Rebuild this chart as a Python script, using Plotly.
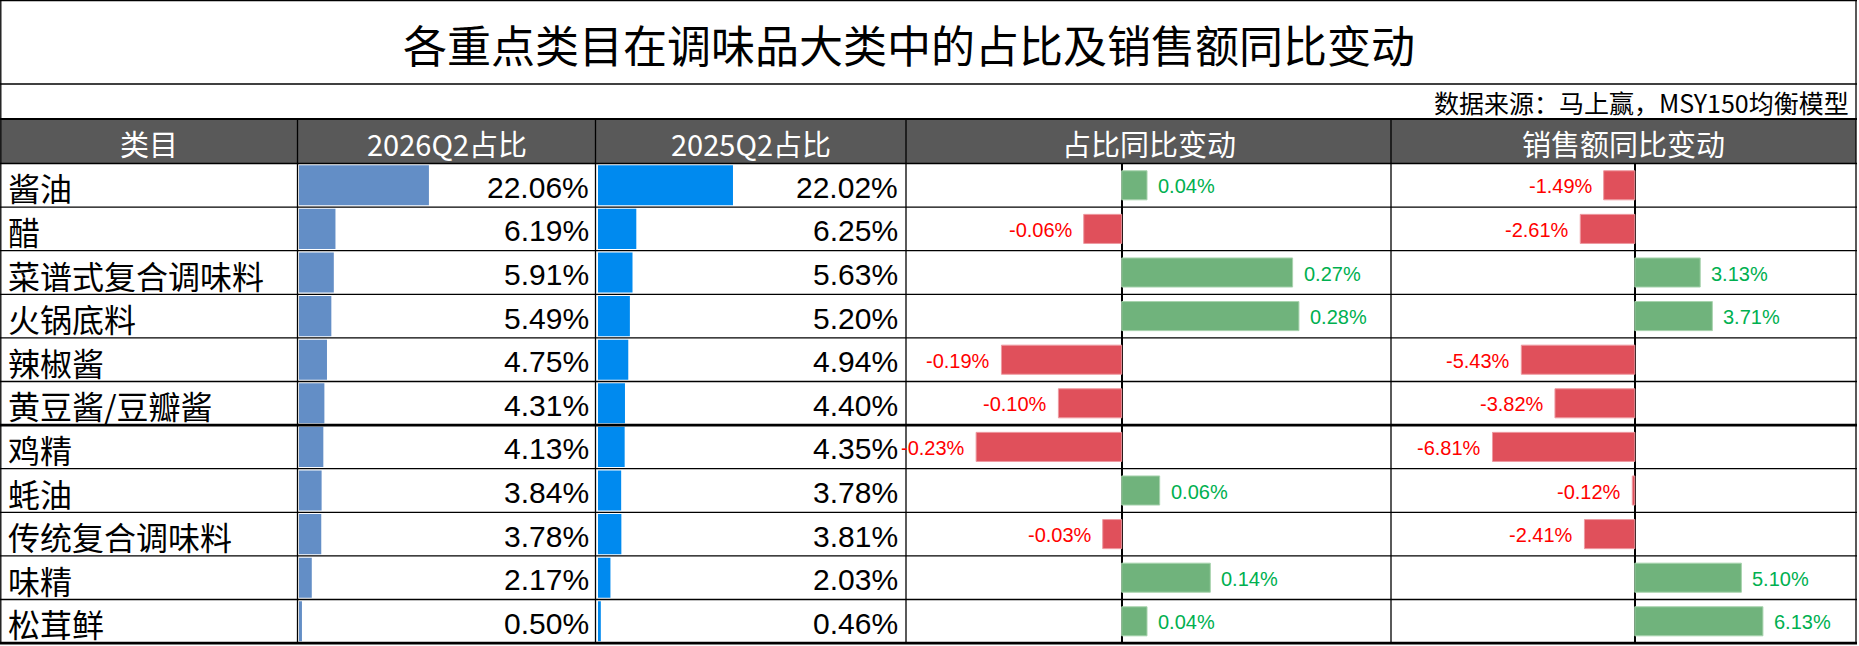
import plotly.graph_objects as go

""" Data """
categories = ['酱油', '醋', '菜谱式复合调味料', '火锅底料', '辣椒酱', '黄豆酱/豆瓣酱',
              '鸡精', '蚝油', '传统复合调味料', '味精', '松茸鲜']
share_2026 = [22.06, 6.19, 5.91, 5.49, 4.75, 4.31, 4.13, 3.84, 3.78, 2.17, 0.50]
share_2025 = [22.02, 6.25, 5.63, 5.20, 4.94, 4.40, 4.35, 3.78, 3.81, 2.03, 0.46]
share_yoy = [0.04, -0.06, 0.27, 0.28, -0.19, -0.10, -0.23, 0.06, -0.03, 0.14, 0.04]
sales_yoy = [-1.49, -2.61, 3.13, 3.71, -5.43, -3.82, -6.81, -0.12, -2.41, 5.10, 6.13]

headers = ['类目', '2026Q2占比', '2025Q2占比', '占比同比变动', '销售额同比变动']
title = '各重点类目在调味品大类中的占比及销售额同比变动'
source = '数据来源：马上赢，MSY150均衡模型'

""" Layout geometry (pixels) """
W, H = 1859, 646
cols = [0.5, 297.5, 595.5, 906, 1391, 1856]
TOP, ROW_H = 163.5, 43.6
BOTTOM = TOP + ROW_H * len(categories)


def fx(x):
    return x / W


def fy(y):
    return 1 - y / H


def bar_range(left, right, zero_px, px_per_unit):
    return [(left - zero_px) / px_per_unit, (right - zero_px) / px_per_unit]


CJK = 'Noto Sans CJK SC'
NUM = 'Liberation Sans'
GREEN, RED = '#70B37C', '#E0505B'
GREEN_EDGE, RED_EDGE = '#A8D3AE', '#EE9AA1'

fig = go.Figure()

""" Data bars """
fig.add_trace(go.Bar(y=categories, x=share_2026, orientation='h', width=0.92,
                     marker=dict(color='#638EC6', line_width=0), xaxis='x', yaxis='y'))
fig.add_trace(go.Bar(y=categories, x=share_2025, orientation='h', width=0.92,
                     marker=dict(color='#008AEF', line_width=0), xaxis='x2', yaxis='y'))
fig.add_trace(go.Bar(y=categories, x=share_yoy, orientation='h', width=0.667,
                     marker=dict(color=[GREEN if v >= 0 else RED for v in share_yoy],
                                 line=dict(color=[GREEN_EDGE if v >= 0 else RED_EDGE for v in share_yoy],
                                           width=1)),
                     xaxis='x3', yaxis='y'))
fig.add_trace(go.Bar(y=categories, x=sales_yoy, orientation='h', width=0.667,
                     marker=dict(color=[GREEN if v >= 0 else RED for v in sales_yoy],
                                 line=dict(color=[GREEN_EDGE if v >= 0 else RED_EDGE for v in sales_yoy],
                                           width=1)),
                     xaxis='x4', yaxis='y'))

hidden = dict(showgrid=False, showticklabels=False, showline=False, ticks='', fixedrange=True)
fig.update_layout(
    xaxis=dict(domain=[fx(cols[1]), fx(cols[2])], range=bar_range(cols[1], cols[2], 299, 5.89),
               zeroline=False, anchor='y', **hidden),
    xaxis2=dict(domain=[fx(cols[2]), fx(cols[3])], range=bar_range(cols[2], cols[3], 598, 6.13),
                zeroline=False, anchor='y', **hidden),
    xaxis3=dict(domain=[fx(cols[3]), fx(cols[4])], range=bar_range(cols[3], cols[4], 1121.7, 633),
                zeroline=True, zerolinecolor='black', zerolinewidth=1.6, layer='above traces',
                anchor='y', **hidden),
    xaxis4=dict(domain=[fx(cols[4]), fx(cols[5])], range=bar_range(cols[4], cols[5], 1634.8, 20.9),
                zeroline=True, zerolinecolor='black', zerolinewidth=1.6, layer='above traces',
                anchor='y', **hidden),
    yaxis=dict(domain=[fy(BOTTOM), fy(TOP)], type='category', categoryorder='array',
               categoryarray=categories, range=[len(categories) - 0.5, -0.5],
               zeroline=False, **hidden),
)

""" Table lines and header fill """
shapes = [dict(type='rect', xref='paper', yref='paper', x0=fx(0.5), x1=fx(1856),
               y0=fy(TOP), y1=fy(119), fillcolor='#595959', line_width=0, layer='below')]


def hline(y, width=1.3):
    return dict(type='line', xref='paper', yref='paper', x0=fx(0), x1=fx(1857),
                y0=fy(y), y1=fy(y), line=dict(color='black', width=width))


def vline(x, y0, y1, width=1.3):
    return dict(type='line', xref='paper', yref='paper', x0=fx(x), x1=fx(x),
                y0=fy(y0), y1=fy(y1), line=dict(color='black', width=width))


shapes += [hline(0.6), hline(84), hline(119, 1.8), hline(TOP)]
for i in range(1, len(categories)):
    shapes.append(hline(TOP + i * ROW_H, 2.8 if i == 6 else 1.3))
shapes.append(hline(BOTTOM, 2.8))
shapes += [vline(0.8, 0, BOTTOM), vline(1856, 0, BOTTOM)]
for c in cols[1:5]:
    shapes.append(vline(c, 119, BOTTOM))

""" Texts """


def label(text, x, y, size, color='black', family=CJK, xanchor='center'):
    return dict(text=text, x=x, y=y, xref='paper', yref='paper', showarrow=False,
                xanchor=xanchor, yanchor='middle', font=dict(family=family, size=size, color=color))


ann = [label(title, fx(909), fy(44), 44),
       label(source, fx(1851), fy(102), 25, xanchor='right')]

for i, h in enumerate(headers):
    ann.append(label(h, fx((cols[i] + cols[i + 1]) / 2), fy(143), 29, color='white'))

for i, cat in enumerate(categories):
    yc = fy(TOP + (i + 0.5) * ROW_H + 2)
    ann.append(label(cat, fx(6), yc, 32, xanchor='left'))
    ann.append(label(f'{share_2026[i]:.2f}%', fx(cols[2] - 4.5), yc, 30, family=NUM, xanchor='right'))
    ann.append(label(f'{share_2025[i]:.2f}%', fx(cols[3] - 6), yc, 30, family=NUM, xanchor='right'))

for axis, values in (('x3', share_yoy), ('x4', sales_yoy)):
    for cat, v in zip(categories, values):
        pos = v >= 0
        ann.append(dict(text=f'{v:.2f}%', x=v, y=cat, xref=axis, yref='y', showarrow=False,
                        xanchor='left' if pos else 'right', yanchor='middle',
                        xshift=9 if pos else -9, yshift=-1,
                        font=dict(family=NUM, size=20, color='#00B050' if pos else '#FF0000')))

fig.update_layout(
    width=W, height=H,
    margin=dict(l=0, r=0, t=0, b=0),
    paper_bgcolor='white', plot_bgcolor='white',
    showlegend=False, barmode='overlay',
    shapes=shapes, annotations=ann,
)

fig.write_html("out.html", config={'displayModeBar': False},
               post_script="document.body.style.margin='0';")
